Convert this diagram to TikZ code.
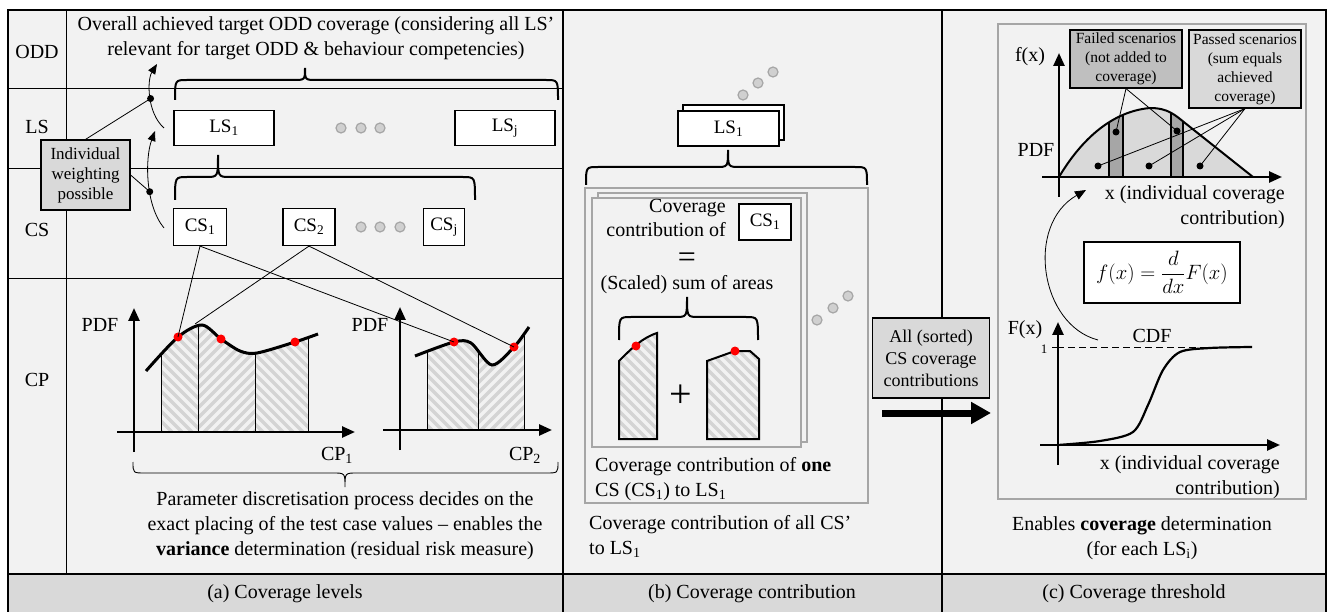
\documentclass[tikz,border=0pt]{standalone}
\usepackage{fontspec}
\setmainfont{Liberation Serif}
\usetikzlibrary{arrows.meta}
\definecolor{bgc}{HTML}{F2F2F2}
\definecolor{bandc}{HTML}{D9D9D9}
\definecolor{hatc}{HTML}{D4D4D4}
\definecolor{boxg}{HTML}{A6A6A6}
\definecolor{failc}{HTML}{BFBFBF}
\definecolor{barc}{HTML}{A6A6A6}
\definecolor{dotc}{HTML}{D0D0D0}
\newcommand\myfs[2]{\fontsize{#1}{#2}\selectfont}
\newcommand\hatchBS[2]{\foreach \k in {-16,...,16}{\draw[hatchline] ({#1+10*\k-100},{#2-100}) -- ({#1+10*\k+100},{#2+100});}}
\newcommand\hatchFS[2]{\foreach \k in {-16,...,16}{\draw[hatchline] ({#1+10*\k-100},{#2+100}) -- ({#1+10*\k+100},{#2-100});}}
\newcommand\mybrace[7]{\draw[#1] (#2,#5) .. controls (#2,#6) .. ({#2+12},#6) -- ({#4-12},#6) .. controls (#4,#6) .. (#4,#7) .. controls (#4,#6) .. ({#4+12},#6) -- ({#3-12},#6) .. controls (#3,#6) .. (#3,#5);}
\tikzset{
 txt/.style={font=\myfs{20}{25}, align=center, inner sep=0pt},
 wbox/.style={draw, fill=white, line width=1.2pt, font=\myfs{19}{25}, inner sep=0pt},
 gbox/.style={draw, line width=1.2pt, align=center, inner sep=0pt},
 axis/.style={line width=2.5pt, -{Triangle[length=13pt,width=11pt]}},
 curvel/.style={line width=3pt},
 hatchline/.style={line width=3.5pt, hatc},
 rdot/.style={circle, fill=red, inner sep=0pt, minimum size=9pt},
 bdot/.style={circle, fill=black, inner sep=0pt, minimum size=7pt},
 gdot/.style={circle, draw=boxg, fill=dotc, line width=1.2pt, inner sep=0pt, minimum size=10pt},
 conn/.style={line width=0.8pt},
 thinframe/.style={line width=0.9pt},
 thickframe/.style={line width=2pt},
 brc/.style={line width=2pt},
 graybox/.style={draw=boxg, line width=1.8pt},
 lbl/.style={font=\myfs{20}{22}, inner sep=0pt},
}
\begin{document}
\begin{tikzpicture}[x=1pt,y=-1pt]
\useasboundingbox (0,0) rectangle (1328,612);
% backgrounds
\fill[bgc] (8,10) rectangle (1326,612);
\fill[bandc] (8,574) rectangle (1326,612);
% grid
\draw[thinframe] (66,10) -- (66,574);
\foreach \yy in {88,168,278} \draw[thinframe] (8,\yy) -- (563,\yy);
\draw[thickframe] (8,574) -- (1326,574);
\draw[thickframe] (563,10) -- (563,612);
\draw[thickframe] (942,10) -- (942,612);
\draw[thickframe] (8,612) -- (8,10) -- (1326,10) -- (1326,612);
% row labels
\node[txt] at (37,52) {ODD};
\node[txt] at (37,127) {LS};
\node[txt] at (37,230) {CS};
\node[txt] at (37,380) {CP};
% title
\node[txt] (title) at (316,38) {Overall achieved target ODD coverage (considering all LS’\\relevant for target ODD \& behaviour competencies)};
\mybrace{brc}{175}{558}{305}{100}{80}{68}
% LS row
\node[wbox, minimum width=100pt, minimum height=35pt] (ls1) at (224,128) {LS\textsubscript{1}};
\node[wbox, minimum width=100pt, minimum height=35pt] (lsj) at (505,128) {LS\textsubscript{j}};
\node[gdot] at (341,128) {};
\node[gdot] at (361,128) {};
\node[gdot] at (380,128) {};
\mybrace{brc}{175}{475}{218}{200}{177}{155}
% CS row
\node[wbox, minimum width=53pt, minimum height=37pt] (cs1) at (200,227) {CS\textsubscript{1}};
\node[wbox, minimum width=52pt, minimum height=37pt] (cs2) at (309,227) {CS\textsubscript{2}};
\node[wbox, minimum width=41pt, minimum height=37pt] (csj) at (444,227) {CS\textsubscript{j}};
\node[gdot] at (361,227) {};
\node[gdot] at (380,227) {};
\node[gdot] at (400,227) {};
% weighting
\node[gbox, fill=bandc, font=\myfs{17}{20}, minimum width=89pt, minimum height=70pt] (wb) at (85.5,175) {Individual\\weighting\\possible};
\coordinate (c1s) at (164,228);
\coordinate (c1e) at (155,131);
\coordinate (c2s) at (164,128);
\coordinate (c2e) at (157,64);
\draw[conn, -{Triangle[length=10pt,width=8pt]}] (c1s) .. controls (145,205) and (145,158) .. (c1e) coordinate[pos=0.4] (c1m);
\draw[conn, -{Triangle[length=10pt,width=8pt]}] (c2s) .. controls (147,113) and (147,80) .. (c2e) coordinate[pos=0.47] (c2m);
\node[bdot] (m1) at (c1m) {};
\node[bdot] (m2) at (c2m) {};
\draw[conn] (wb.north) -- (m2.center);
\draw[conn] (wb.east) -- (m1.center);
% plot 1
\begin{scope}
 \clip plot[smooth] coordinates {(146,371) (178,337) (202,325) (221,339) (240,351) (257,353) (295,342) (318,334)} -- (318,432) -- (146,432) -- cycle;
 \begin{scope}\clip (161,300) rectangle (198,432); \hatchBS{180}{380} \end{scope}
 \begin{scope}\clip (198,300) rectangle (255,432); \hatchFS{226}{380} \end{scope}
 \begin{scope}\clip (255,300) rectangle (308,432); \hatchBS{281}{380} \end{scope}
 \foreach \xx in {161,198,255,308} \draw[thinframe] (\xx,300) -- (\xx,432);
\end{scope}
\draw[axis] (117,432) -- (355,432);
\draw[axis] (134,452) -- (134,308);
\draw[curvel] plot[smooth] coordinates {(146,371) (178,337) (202,325) (221,339) (240,351) (257,353) (295,342) (318,334)};
\node[rdot] (d1) at (178,337) {};
\node[rdot] (d2) at (221,339) {};
\node[rdot] (d3) at (295,342) {};
\coordinate (pk) at (195,324);
\node[lbl] at (100,325) {PDF};
\node[txt] at (337,455) {CP\textsubscript{1}};
% plot 2
\begin{scope}
 \clip plot[smooth] coordinates {(415,356) (454,342) (471,343) (492,365) (514,347) (529,327)} -- (529,430) -- (415,430) -- cycle;
 \begin{scope}\clip (427,300) rectangle (478,430); \hatchBS{452}{380} \end{scope}
 \begin{scope}\clip (478,300) rectangle (524,430); \hatchFS{501}{380} \end{scope}
 \foreach \xx in {427,478,524} \draw[thinframe] (\xx,300) -- (\xx,430);
\end{scope}
\draw[axis] (383,430) -- (552,430);
\draw[axis] (400,450) -- (400,307);
\draw[curvel] plot[smooth] coordinates {(415,356) (454,342) (471,343) (492,365) (514,347) (529,327)};
\node[rdot] (e1) at (454,342) {};
\node[rdot] (e2) at (514,347) {};
\node[lbl] at (370,325) {PDF};
\node[txt] at (525,455) {CP\textsubscript{2}};
% connectors CS -> points
\draw[conn] (cs1.south) -- (d1.center);
\draw[conn] (cs1.south) -- (e1.center);
\draw[conn] (cs2.south) -- (pk);
\draw[conn] (cs2.south) -- (e2.center);
% bottom brace + text
\mybrace{thinframe}{133}{558}{345}{462}{473}{487}
\node[txt] at (345,526) {Parameter discretisation process decides on the\\exact placing of the test case values – enables the\\\textbf{variance} determination (residual risk measure)};
% ===== panel b =====
\node[gdot] at (743,95) {};
\node[gdot] at (758,83) {};
\node[gdot] at (773,72) {};
\draw[line width=1.2pt, fill=white] (683,105) rectangle (784,140);
\node[wbox, minimum width=101pt, minimum height=35pt] (ls1b) at (728.5,128.5) {LS\textsubscript{1}};
\mybrace{brc}{586}{867}{728}{185}{167}{150}
\draw[graybox] (585,188) rectangle (868,503);
\draw[graybox, fill=bgc] (598,193) rectangle (807,442);
\draw[graybox, fill=bgc] (592,198) rectangle (801,447);
\node[txt, align=right, anchor=east, font=\myfs{20}{24}] at (726,218) {Coverage\\contribution of};
\node[wbox, minimum width=52pt, minimum height=36pt] (cs1b) at (765,222) {CS\textsubscript{1}};
\node[txt, font=\myfs{32}{32}] at (687,260) {=};
\node[txt] at (687,285) {(Scaled) sum of areas};
\mybrace{brc}{619}{758}{687}{340}{317}{297}
\begin{scope}
 \clip (619,439) -- (619,361) .. controls (632,348) and (642,338) .. (657,333) -- (657,439) -- cycle;
 \hatchBS{638}{390}
\end{scope}
\draw[line width=2pt] (619,439) -- (619,361) .. controls (632,348) and (642,338) .. (657,333) -- (657,439) -- cycle;
\begin{scope}
 \clip (707,439) -- (707,361) -- (735,351) -- (750,351) -- (759,359) -- (759,439) -- cycle;
 \hatchBS{733}{395}
\end{scope}
\draw[line width=2pt] (707,439) -- (707,361) -- (735,351) -- (750,351) -- (759,359) -- (759,439) -- cycle;
\node[rdot] at (636,346) {};
\node[rdot] at (735,351) {};
\node[txt, font=\myfs{40}{40}] at (681,396) {+};
\node[gdot] at (817,320) {};
\node[gdot] at (833,308) {};
\node[gdot] at (848,296) {};
\node[txt, align=left, anchor=north west] at (595,457) {Coverage contribution of \textbf{one}\\CS (CS\textsubscript{1}) to LS\textsubscript{1}};
\node[txt, align=left, anchor=north west] at (589,515) {Coverage contribution of all CS’\\to LS\textsubscript{1}};
% arrow between b and c
\node[gbox, fill=bandc, font=\myfs{18}{22}, minimum width=117pt, minimum height=80pt] (allcs) at (931,358) {All (sorted)\\CS coverage\\contributions};
\coordinate (arS) at (882,413);
\coordinate (arE) at (991,413);
\draw[line width=7pt, -{Triangle[length=20pt,width=21pt]}] (arS) -- (arE);
% ===== panel c =====
\draw[graybox] (998,24) rectangle (1306,499);
\fill[bandc] (1059,177) .. controls (1075,150) and (1105,112) .. (1150,108) .. controls (1168,108) and (1175,115) .. (1185,123) -- (1253,177) -- cycle;
\begin{scope}
 \clip (1059,177) .. controls (1075,150) and (1105,112) .. (1150,108) .. controls (1168,108) and (1175,115) .. (1185,123) -- (1253,177) -- cycle;
 \draw[fill=barc, line width=1.6pt] (1109,90) rectangle (1123,177);
 \draw[fill=barc, line width=1.6pt] (1171,90) rectangle (1183,177);
\end{scope}
\draw[line width=2pt] (1059,177) .. controls (1075,150) and (1105,112) .. (1150,108) .. controls (1168,108) and (1175,115) .. (1185,123) -- (1253,177);
\draw[axis] (1042,177) -- (1282,177);
\draw[axis] (1059,197) -- (1059,53);
\node[lbl] at (1030,57) {f(x)};
\node[lbl] at (1036,150) {PDF};
\node[gbox, fill=failc, font=\myfs{15.5}{19}, minimum width=112pt, minimum height=58pt] (fail) at (1126,59) {Failed scenarios\\(not added to\\coverage)};
\node[gbox, fill=bandc, font=\myfs{15.5}{19}, minimum width=112pt, minimum height=78pt] (pass) at (1245,69) {Passed scenarios\\(sum equals\\achieved\\coverage)};
\node[bdot] (f1) at (1116,132) {};
\node[bdot] (f2) at (1177,131) {};
\node[bdot] (p1) at (1098,166) {};
\node[bdot] (p2) at (1149,166) {};
\node[bdot] (p3) at (1200,166) {};
\draw[conn] (fail.south) -- (f1.center);
\draw[conn] (fail.south) -- (f2.center);
\draw[conn] (pass.south) -- (p1.center);
\draw[conn] (pass.south) -- (p2.center);
\draw[conn] (pass.south) -- (p3.center);
\node[txt, align=right, anchor=north east] at (1285,185) {x (individual coverage\\contribution)};
\node[gbox, fill=white, font=\myfs{20}{24}, minimum width=156pt, minimum height=61pt] (fbox) at (1162,272.5) {$\displaystyle f(x)=\frac{d}{dx}F(x)$};
\coordinate (cuS) at (1098,340);
\coordinate (cuE) at (1086,190);
\draw[conn, -{Triangle[length=11pt,width=9pt]}] (cuS) .. controls (1040,325) and (1025,225) .. (cuE);
% CDF
\draw[axis] (1040,445) -- (1280,445);
\draw[axis] (1058,465) -- (1058,322);
\node[lbl] at (1025,330) {F(x)};
\node[font=\myfs{13}{15}, inner sep=0pt] at (1044,349) {1};
\draw[thinframe] (1052,347) -- (1064,347);
\draw[thinframe, dashed, dash pattern=on 7pt off 4pt] (1068,347) -- (1213,347);
\node[txt] at (1152,336) {CDF};
\draw[line width=2.2pt] plot[smooth] coordinates {(1058,445) (1100,441) (1133,432) (1148,405) (1163,370) (1180,352) (1210,348) (1252,347)};
\node[txt, align=right, anchor=north east] at (1280,455) {x (individual coverage\\contribution)};
\node[txt] at (1142,538) {Enables \textbf{coverage} determination\\(for each LS\textsubscript{i})};
% band labels
\node[txt] at (285,594) {(a) Coverage levels};
\node[txt] at (752,594) {(b) Coverage contribution};
\node[txt] at (1134,594) {(c) Coverage threshold};
\end{tikzpicture}
\end{document}
